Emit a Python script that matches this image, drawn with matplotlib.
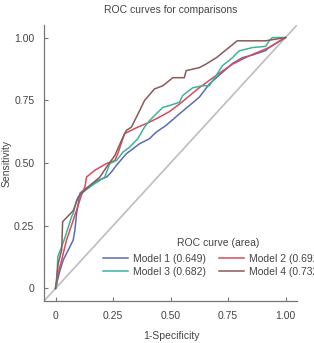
import matplotlib
matplotlib.use("Agg")
import matplotlib.pyplot as plt

plt.rcParams['font.family'] = ['Liberation Sans', 'DejaVu Sans']

title = "ROC curves for comparisons"
xlabel = "1-Specificity"
ylabel = "Sensitivity"
legend_title = "ROC curve (area)"
ticks = [0, 0.25, 0.5, 0.75, 1.0]
tick_labels = ["0", "0.25", "0.50", "0.75", "1.00"]

labels = ["Model 1 (0.649)", "Model 2 (0.692)", "Model 3 (0.682)", "Model 4 (0.732)"]
colors = ["#5a6cb4", "#d94a5c", "#3cb596", "#8a5a58"]

m1_x = [0, 0.019, 0.034, 0.048, 0.056, 0.077, 0.084, 0.092, 0.099, 0.106, 0.113, 0.142, 0.185,
        0.222, 0.243, 0.265, 0.308, 0.366, 0.409, 0.423, 0.438, 0.481, 0.539, 0.582, 0.625,
        0.669, 0.77, 0.813, 0.855, 0.914, 0.928, 1.0]
m1_y = [0, 0.07, 0.114, 0.14, 0.154, 0.193, 0.23, 0.3, 0.339, 0.379, 0.385, 0.405, 0.431,
        0.444, 0.464, 0.491, 0.537, 0.577, 0.597, 0.61, 0.623, 0.65, 0.696, 0.729, 0.762,
        0.815, 0.897, 0.92, 0.93, 0.948, 0.96, 1.0]

m2_x = [0, 0.012, 0.027, 0.048, 0.08, 0.113, 0.128, 0.135, 0.171, 0.222, 0.258, 0.272, 0.30,
        0.358, 0.409, 0.452, 0.496, 0.539, 0.625, 0.70, 0.77, 0.842, 0.928, 1.0]
m2_y = [0, 0.06, 0.114, 0.193, 0.28, 0.372, 0.405, 0.444, 0.471, 0.498, 0.51, 0.54, 0.617,
        0.643, 0.663, 0.683, 0.705, 0.735, 0.80, 0.85, 0.894, 0.927, 0.96, 1.0]

m3_x = [0, 0.005, 0.01, 0.027, 0.04, 0.056, 0.07, 0.077, 0.092, 0.106, 0.128, 0.171, 0.193,
        0.214, 0.236, 0.265, 0.294, 0.322, 0.358, 0.387, 0.409, 0.438, 0.467, 0.496, 0.539,
        0.553, 0.597, 0.64, 0.669, 0.698, 0.726, 0.77, 0.784, 0.799, 0.856, 0.914, 0.929,
        0.943, 1.0]
m3_y = [0, 0.015, 0.127, 0.167, 0.2, 0.246, 0.286, 0.30, 0.352, 0.372, 0.39, 0.418, 0.431,
        0.444, 0.498, 0.51, 0.544, 0.563, 0.597, 0.643, 0.669, 0.696, 0.722, 0.729, 0.742,
        0.769, 0.80, 0.808, 0.808, 0.848, 0.888, 0.92, 0.934, 0.947, 0.96, 0.965, 0.987,
        1.0, 1.0]

m4_x = [0, 0.012, 0.027, 0.031, 0.056, 0.077, 0.099, 0.12, 0.149, 0.193, 0.222, 0.258, 0.287,
        0.308, 0.33, 0.366, 0.387, 0.43, 0.467, 0.51, 0.56, 0.568, 0.625, 0.654, 0.70, 0.79,
        0.914, 1.0]
m4_y = [0, 0.10, 0.154, 0.266, 0.29, 0.31, 0.365, 0.385, 0.41, 0.444, 0.484, 0.53, 0.59,
        0.63, 0.643, 0.709, 0.749, 0.795, 0.808, 0.84, 0.84, 0.868, 0.88, 0.894, 0.92, 0.987,
        0.987, 1.0]

series = [(m1_x, m1_y), (m2_x, m2_y), (m3_x, m3_y), (m4_x, m4_y)]

FS = 7.5
TXT = "#444444"

fig = plt.figure(figsize=(3.14, 3.43), dpi=100)
ax = fig.add_axes([44/314, 1-301/343, (297-44)/314, (301-25)/343])

ax.plot([-0.05, 1.05], [-0.05, 1.05], color="#bdbdbd", lw=1.2, zorder=1)
handles = []
for (xs, ys), c, lab in zip(series, colors, labels):
    h, = ax.plot(xs, ys, color=c, lw=1.1, label=lab, zorder=2)
    handles.append(h)

ax.set_xlim(-0.05, 1.05)
ax.set_ylim(-0.05, 1.05)
ax.set_xticks(ticks)
ax.set_xticklabels(tick_labels)
ax.set_yticks(ticks)
ax.set_yticklabels(tick_labels)
for s in ["top", "right"]:
    ax.spines[s].set_visible(False)
for s in ["left", "bottom"]:
    ax.spines[s].set_color("#777777")
    ax.spines[s].set_linewidth(0.9)
ax.tick_params(direction="in", length=3, width=0.8, color="#777777",
               labelsize=FS, labelcolor=TXT, pad=7)

fig.text(171/314, 1-10/343, title, ha="center", va="center", fontsize=FS, color=TXT)
fig.text(171/314, 1-336/343, xlabel, ha="center", va="center", fontsize=FS, color=TXT)
fig.text(7/314, 1-163/343, ylabel, ha="center", va="center", rotation=90, fontsize=FS,
         color=TXT)
fig.text(218/314, 1-243/343, legend_title, ha="center", va="center", fontsize=FS, color=TXT)

order = [handles[0], handles[2], handles[1], handles[3]]
order_labels = [labels[0], labels[2], labels[1], labels[3]]
leg = fig.legend(order, order_labels, ncol=2, loc="upper left",
                 bbox_to_anchor=(103/314, 1-254/343), frameon=False, fontsize=FS,
                 handlelength=2.4, handletextpad=0.5, columnspacing=1.25,
                 labelspacing=0.25, borderpad=0, borderaxespad=0)
for t in leg.get_texts():
    t.set_color(TXT)

fig.savefig("out.png", dpi=100)
